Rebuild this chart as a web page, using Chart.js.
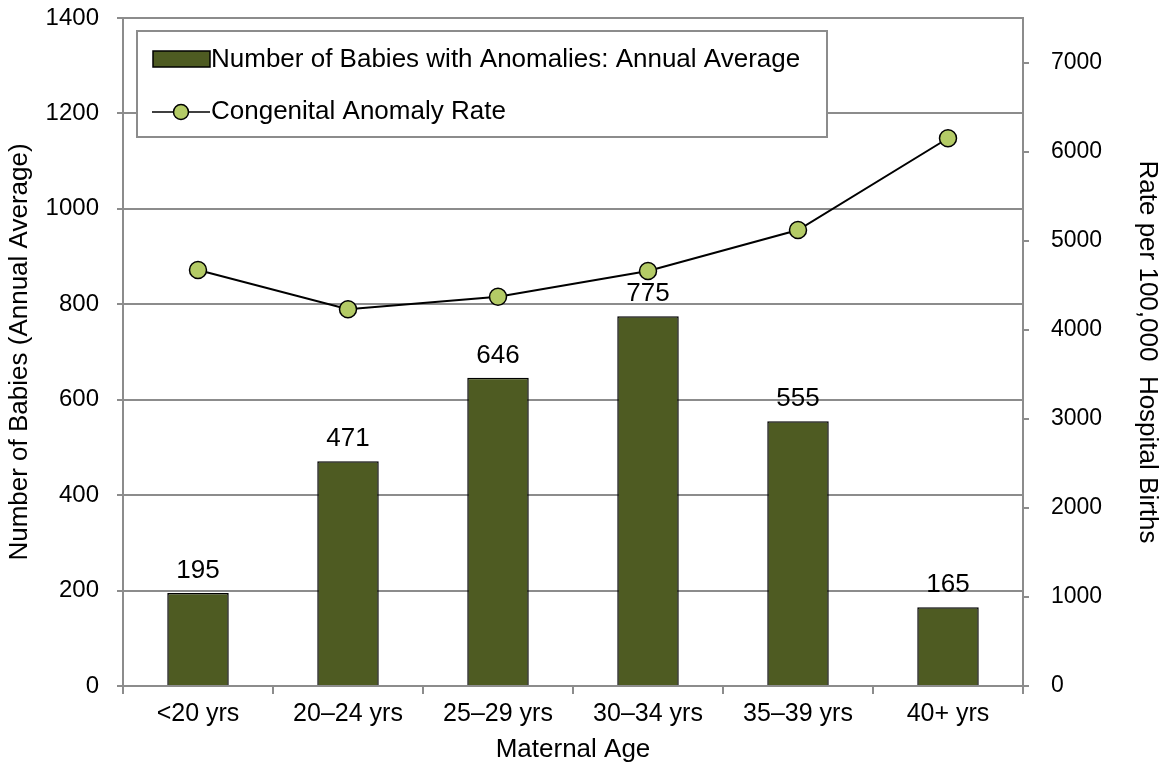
<!DOCTYPE html>
<html>
<head>
<meta charset="utf-8">
<script src="https://cdn.jsdelivr.net/npm/chart.js@4"></script>
<style>
  html, body { margin: 0; padding: 0; background: #fff; }
  #wrap { width: 1163px; height: 765px; }
</style>
</head>
<body>
<div id="wrap"><canvas id="c"></canvas></div>
<script>
// data
const ages = ["<20 yrs", "20\u201324 yrs", "25\u201329 yrs", "30\u201334 yrs", "35\u201339 yrs", "40+ yrs"];
const babies = [195, 471, 646, 775, 555, 165];
const rates = [4670, 4230, 4370, 4660, 5120, 6150];
const leftTicks = [0, 200, 400, 600, 800, 1000, 1200, 1400];
const rightTicks = [0, 1000, 2000, 3000, 4000, 5000, 6000, 7000];

const FONT = "'Liberation Sans', Arial, sans-serif";
const barColor = "#4e5b22";
const dotColor = "#b4cb66";
const gridGray = "#8c8c8c";

// value labels above the bars
const barLabels = {
  id: "barLabels",
  afterDatasetsDraw(chart) {
    const ctx = chart.ctx;
    const meta = chart.getDatasetMeta(1);
    ctx.save();
    ctx.font = "26px " + FONT;
    ctx.fillStyle = "#000";
    ctx.textAlign = "center";
    ctx.textBaseline = "bottom";
    meta.data.forEach((bar, i) => {
      ctx.fillText(String(babies[i]), bar.x, bar.y - 9);
    });
    ctx.restore();
  }
};

// boxed legend inside the plot
const boxLegend = {
  id: "boxLegend",
  afterDatasetsDraw(chart) {
    const ctx = chart.ctx;
    const a = chart.chartArea;
    const x = a.left + 14, y = a.top + 13, w = 690, h = 106;
    ctx.save();
    ctx.fillStyle = "#fff";
    ctx.fillRect(x, y, w, h);
    ctx.strokeStyle = gridGray;
    ctx.lineWidth = 2;
    ctx.strokeRect(x, y, w, h);

    // bar swatch
    ctx.fillStyle = barColor;
    ctx.fillRect(x + 16, y + 20, 57, 16);
    ctx.strokeStyle = "#000";
    ctx.lineWidth = 1.5;
    ctx.strokeRect(x + 16, y + 20, 57, 16);

    // line swatch
    ctx.beginPath();
    ctx.moveTo(x + 15, y + 81);
    ctx.lineTo(x + 73, y + 81);
    ctx.lineWidth = 1.5;
    ctx.stroke();
    ctx.beginPath();
    ctx.arc(x + 44, y + 81, 7.5, 0, Math.PI * 2);
    ctx.fillStyle = dotColor;
    ctx.fill();
    ctx.stroke();

    ctx.fillStyle = "#000";
    ctx.font = "26px " + FONT;
    ctx.textBaseline = "middle";
    ctx.textAlign = "left";
    ctx.fillText(chart.data.datasets[1].label, x + 74, y + 29);
    ctx.fillText(chart.data.datasets[0].label, x + 74, y + 81);
    ctx.restore();
  }
};

const plain = v => String(v);

new Chart(document.getElementById("c"), {
  type: "bar",
  data: {
    labels: ages,
    datasets: [
      {
        type: "line",
        label: "Congenital Anomaly Rate",
        data: rates,
        yAxisID: "y1",
        borderColor: "#000",
        borderWidth: 2,
        pointRadius: 8.5,
        pointBackgroundColor: dotColor,
        pointBorderColor: "#000",
        pointBorderWidth: 1.5,
        tension: 0,
        order: 0
      },
      {
        type: "bar",
        label: "Number of Babies with Anomalies: Annual Average",
        data: babies,
        yAxisID: "y",
        backgroundColor: barColor,
        borderColor: "#000",
        borderWidth: 1.5,
        categoryPercentage: 1,
        barPercentage: 0.41,
        order: 1
      }
    ]
  },
  options: {
    responsive: true,
    maintainAspectRatio: false,
    animation: false,
    layout: { padding: { top: 18, left: 0, right: 0, bottom: 0 } },
    plugins: {
      legend: { display: false },
      tooltip: { enabled: false }
    },
    scales: {
      x: {
        offset: true,
        grid: { offset: true, drawOnChartArea: false, drawTicks: true, tickLength: 8, color: gridGray, lineWidth: 2 },
        border: { color: gridGray, width: 2 },
        ticks: { color: "#000", font: { family: FONT, size: 25 }, padding: 5, maxRotation: 0 },
        title: { display: true, text: "Maternal Age", color: "#000", font: { family: FONT, size: 26 }, padding: { top: 0, bottom: 0 } },
        afterFit(s) { s.height = 79; }
      },
      y: {
        position: "left",
        min: 0,
        max: 1400,
        afterBuildTicks(s) { s.ticks = leftTicks.map(v => ({ value: v })); },
        grid: { color: gridGray, lineWidth: 2, tickLength: 6 },
        border: { color: gridGray, width: 2 },
        ticks: { color: "#000", font: { family: FONT, size: 24 }, padding: 18, callback: plain },
        title: { display: true, text: "Number of Babies (Annual Average)", color: "#000", font: { family: FONT, size: 26 }, padding: { top: 4, bottom: 0 } },
        afterFit(s) { s.width = 123; s.paddingTop = 0; s.paddingBottom = 0; }
      },
      y1: {
        position: "right",
        min: 0,
        max: 7500,
        afterBuildTicks(s) { s.ticks = rightTicks.map(v => ({ value: v })); },
        grid: { drawOnChartArea: false, color: gridGray, lineWidth: 2, tickLength: 6 },
        border: { color: gridGray, width: 2 },
        ticks: { color: "#000", font: { family: FONT, size: 23 }, padding: 22, callback: plain },
        title: { display: true, text: "Rate per 100,000  Hospital Births", color: "#000", font: { family: FONT, size: 26 }, padding: { top: 0, bottom: 0 } },
        afterFit(s) { s.width = 140; s.paddingTop = 0; s.paddingBottom = 0; }
      }
    }
  },
  plugins: [barLabels, boxLegend]
});
</script>
</body>
</html>
